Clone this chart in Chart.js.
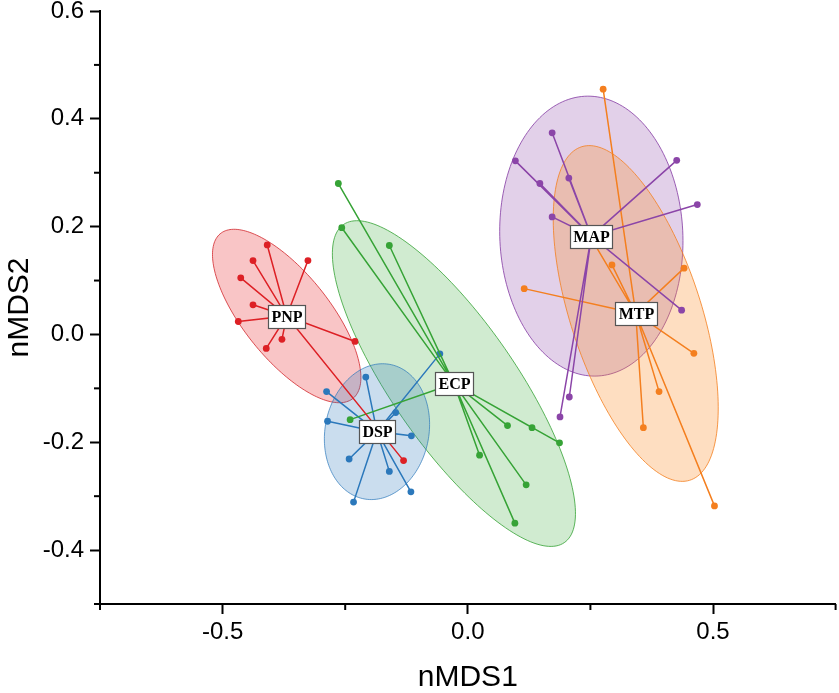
<!DOCTYPE html>
<html><head><meta charset="utf-8">
<script src="https://cdn.jsdelivr.net/npm/chart.js@4.4.1/dist/chart.umd.min.js"></script>
<style>html,body{margin:0;padding:0;background:#fff}#wrap{width:839px;height:693px;position:relative}</style>
</head><body><div id="wrap"><canvas id="c"></canvas></div>
<script>
// ---- data ----
const groupNames = ['PNP', 'ECP', 'DSP', 'MAP', 'MTP'];
const pnpX = [-0.409, -0.438, -0.326, -0.463, -0.438, -0.468, -0.230, -0.379, -0.411, -0.131];
const pnpY = [0.166, 0.137, 0.137, 0.105, 0.055, 0.024, -0.013, -0.009, -0.026, -0.234];
const dspX = [-0.208, -0.288, -0.057, -0.147, -0.286, -0.115, -0.242, -0.160, -0.116, -0.233];
const dspY = [-0.079, -0.106, -0.036, -0.145, -0.161, -0.188, -0.231, -0.254, -0.292, -0.311];
const ecpX = [-0.264, -0.257, -0.160, -0.240, 0.081, 0.131, 0.187, 0.024, 0.119, 0.096];
const ecpY = [0.280, 0.198, 0.165, -0.158, -0.169, -0.173, -0.201, -0.224, -0.279, -0.350];
const mapX = [0.172, 0.097, 0.147, 0.206, 0.426, 0.468, 0.172, 0.436, 0.207, 0.188];
const mapY = [0.374, 0.322, 0.280, 0.290, 0.323, 0.241, 0.218, 0.045, -0.116, -0.153];
const mtpX = [0.276, 0.294, 0.441, 0.115, 0.461, 0.390, 0.358, 0.503, 0.244];
const mtpY = [0.455, 0.129, 0.123, 0.085, -0.035, -0.106, -0.173, -0.318, 0.190];
const xTickValues = [-0.5, 0.0, 0.5];
const xTickLabels = ['-0.5', '0.0', '0.5'];
const yTickValues = [-0.4, -0.2, 0.0, 0.2, 0.4, 0.6];
const yTickLabels = ['-0.4', '-0.2', '0.0', '0.2', '0.4', '0.6'];
const ellipseLevel = 0.61;

// ---- styling ----
const groupX = {PNP: pnpX, ECP: ecpX, DSP: dspX, MAP: mapX, MTP: mtpX};
const groupY = {PNP: pnpY, ECP: ecpY, DSP: dspY, MAP: mapY, MTP: mtpY};
const lineColor = {PNP: '#dd2025', ECP: '#36a336', DSP: '#2b78bb', MAP: '#8b45a8', MTP: '#f47f1f'};
const fillColor = {PNP: 'rgba(232,40,45,0.27)', ECP: 'rgba(54,170,54,0.23)', DSP: 'rgba(43,120,187,0.25)', MAP: 'rgba(139,69,168,0.25)', MTP: 'rgba(250,140,40,0.29)'};
const edgeColor = {PNP: 'rgba(210,40,45,0.8)', ECP: 'rgba(54,163,54,0.8)', DSP: 'rgba(43,120,187,0.7)', MAP: 'rgba(139,69,168,0.85)', MTP: 'rgba(244,127,31,0.8)'};

function stats(xs, ys) {
  const n = xs.length;
  const mx = xs.reduce((a, b) => a + b, 0) / n;
  const my = ys.reduce((a, b) => a + b, 0) / n;
  let sxx = 0, syy = 0, sxy = 0;
  for (let i = 0; i < n; i++) {
    sxx += (xs[i] - mx) ** 2; syy += (ys[i] - my) ** 2; sxy += (xs[i] - mx) * (ys[i] - my);
  }
  return {mx, my, sxx: sxx / (n - 1), syy: syy / (n - 1), sxy: sxy / (n - 1)};
}
const groupStats = {};
groupNames.forEach(g => groupStats[g] = stats(groupX[g], groupY[g]));

const datasets = groupNames.map(g => {
  const s = groupStats[g];
  const data = [];
  groupX[g].forEach((x, i) => { data.push({x: s.mx, y: s.my}); data.push({x: x, y: groupY[g][i]}); });
  return {
    label: g, data, showLine: true,
    borderColor: lineColor[g], backgroundColor: lineColor[g],
    borderWidth: 1.5,
    pointRadius: c => (c.dataIndex % 2 === 0 ? 0 : 3.4),
    pointHoverRadius: 0, pointBorderWidth: 0,
    pointBackgroundColor: lineColor[g]
  };
});

const ellipsePlugin = {
  id: 'ellipses',
  beforeDatasetsDraw(chart) {
    const {ctx, chartArea, scales: {x, y}} = chart;
    const k = Math.sqrt(-2 * Math.log(1 - ellipseLevel));
    ctx.save();
    ctx.beginPath(); ctx.rect(chartArea.left, chartArea.top, chartArea.width, chartArea.height); ctx.clip();
    groupNames.forEach(g => {
      const s = groupStats[g];
      const tr = s.sxx + s.syy, det = s.sxx * s.syy - s.sxy * s.sxy;
      const disc = Math.sqrt(tr * tr / 4 - det);
      const l1 = tr / 2 + disc, l2 = tr / 2 - disc;
      let v1 = [s.sxy, l1 - s.sxx];
      if (Math.abs(s.sxy) < 1e-12) v1 = s.sxx >= s.syy ? [1, 0] : [0, 1];
      const nv = Math.hypot(v1[0], v1[1]); v1 = [v1[0] / nv, v1[1] / nv];
      const v2 = [-v1[1], v1[0]];
      const a = k * Math.sqrt(l1), b = k * Math.sqrt(Math.max(l2, 0));
      ctx.beginPath();
      for (let i = 0; i <= 180; i++) {
        const t = i / 180 * Math.PI * 2;
        const dx = a * Math.cos(t) * v1[0] + b * Math.sin(t) * v2[0];
        const dy = a * Math.cos(t) * v1[1] + b * Math.sin(t) * v2[1];
        const px = x.getPixelForValue(s.mx + dx), py = y.getPixelForValue(s.my + dy);
        if (i === 0) ctx.moveTo(px, py); else ctx.lineTo(px, py);
      }
      ctx.closePath();
      ctx.fillStyle = fillColor[g]; ctx.fill();
      ctx.lineWidth = 1; ctx.strokeStyle = edgeColor[g]; ctx.stroke();
    });
    ctx.restore();
  },
  afterDatasetsDraw(chart) {
    const {ctx, scales: {x, y}} = chart;
    ctx.save();
    ctx.font = 'bold 16px "Liberation Serif", "Times New Roman", serif';
    ctx.textAlign = 'center'; ctx.textBaseline = 'middle';
    groupNames.forEach(g => {
      const s = groupStats[g];
      const px = x.getPixelForValue(s.mx), py = y.getPixelForValue(s.my);
      const w = Math.round(ctx.measureText(g).width + 6), h = 23;
      const bx = Math.round(px - w / 2), by = Math.round(py - h / 2);
      ctx.fillStyle = '#fff';
      ctx.fillRect(bx, by, w, h);
      ctx.lineWidth = 1.2; ctx.strokeStyle = '#555';
      ctx.strokeRect(bx + 0.5, by + 0.5, w, h);
      ctx.fillStyle = '#000';
      ctx.fillText(g, bx + w / 2 + 0.5, by + h / 2 + 1.5);
    });
    ctx.restore();
  },
  afterDraw(chart) {
    // minor ticks (unlabelled positions)
    const {ctx, chartArea, scales: {x, y}} = chart;
    ctx.save();
    ctx.strokeStyle = '#000'; ctx.lineWidth = 2;
    x.ticks.forEach(t => {
      if (xTickValues.some(v => Math.abs(v - t.value) < 1e-6)) return;
      const px = x.getPixelForValue(t.value);
      ctx.beginPath(); ctx.moveTo(px, chartArea.bottom); ctx.lineTo(px, chartArea.bottom + 6); ctx.stroke();
    });
    y.ticks.forEach(t => {
      if (yTickValues.some(v => Math.abs(v - t.value) < 1e-6)) return;
      const py = y.getPixelForValue(t.value);
      ctx.beginPath(); ctx.moveTo(chartArea.left, py); ctx.lineTo(chartArea.left - 6, py); ctx.stroke();
    });
    ctx.restore();
  }
};

function labelFor(values, labels, v) {
  const i = values.findIndex(u => Math.abs(u - v) < 1e-6);
  return i >= 0 ? labels[i] : '';
}

new Chart(document.getElementById('c'), {
  type: 'scatter',
  data: {datasets},
  plugins: [ellipsePlugin],
  options: {
    responsive: true, maintainAspectRatio: false, animation: false,
    layout: {padding: {left: 0, right: 2, top: 11, bottom: 0}},
    plugins: {legend: {display: false}, tooltip: {enabled: false}},
    events: [],
    scales: {
      x: {
        type: 'linear', min: -0.75, max: 0.75,
        afterFit: s => { s.height = 89; s.paddingLeft = 0; s.paddingRight = 0; },
        border: {display: true, color: '#000', width: 2},
        grid: {display: true, drawOnChartArea: false, drawTicks: true, tickLength: 10, tickWidth: 2,
               tickColor: c => (c.tick && xTickValues.some(v => Math.abs(v - c.tick.value) < 1e-6)) ? '#000' : 'rgba(0,0,0,0)'},
        ticks: {stepSize: 0.25, autoSkip: false, maxRotation: 0, padding: 4, color: '#000',
                font: {family: '"Liberation Sans", Arial, sans-serif', size: 24},
                callback: v => labelFor(xTickValues, xTickLabels, v)},
        title: {display: true, text: 'nMDS1', color: '#000', padding: {top: 0, bottom: 0},
                font: {family: '"Liberation Sans", Arial, sans-serif', size: 30, lineHeight: 1}}
      },
      y: {
        type: 'linear', min: -0.5, max: 0.6,
        afterFit: s => { s.width = 100; s.paddingTop = 0; s.paddingBottom = 0; },
        border: {display: true, color: '#000', width: 2},
        grid: {display: true, drawOnChartArea: false, drawTicks: true, tickLength: 10, tickWidth: 2,
               tickColor: c => (c.tick && yTickValues.some(v => Math.abs(v - c.tick.value) < 1e-6)) ? '#000' : 'rgba(0,0,0,0)'},
        ticks: {stepSize: 0.1, autoSkip: false, padding: 6, color: '#000',
                font: {family: '"Liberation Sans", Arial, sans-serif', size: 24},
                callback: v => labelFor(yTickValues, yTickLabels, v)},
        title: {display: true, text: 'nMDS2', color: '#000', padding: {top: 5, bottom: 0},
                font: {family: '"Liberation Sans", Arial, sans-serif', size: 30, lineHeight: 1}}
      }
    }
  }
});
</script></body></html>
